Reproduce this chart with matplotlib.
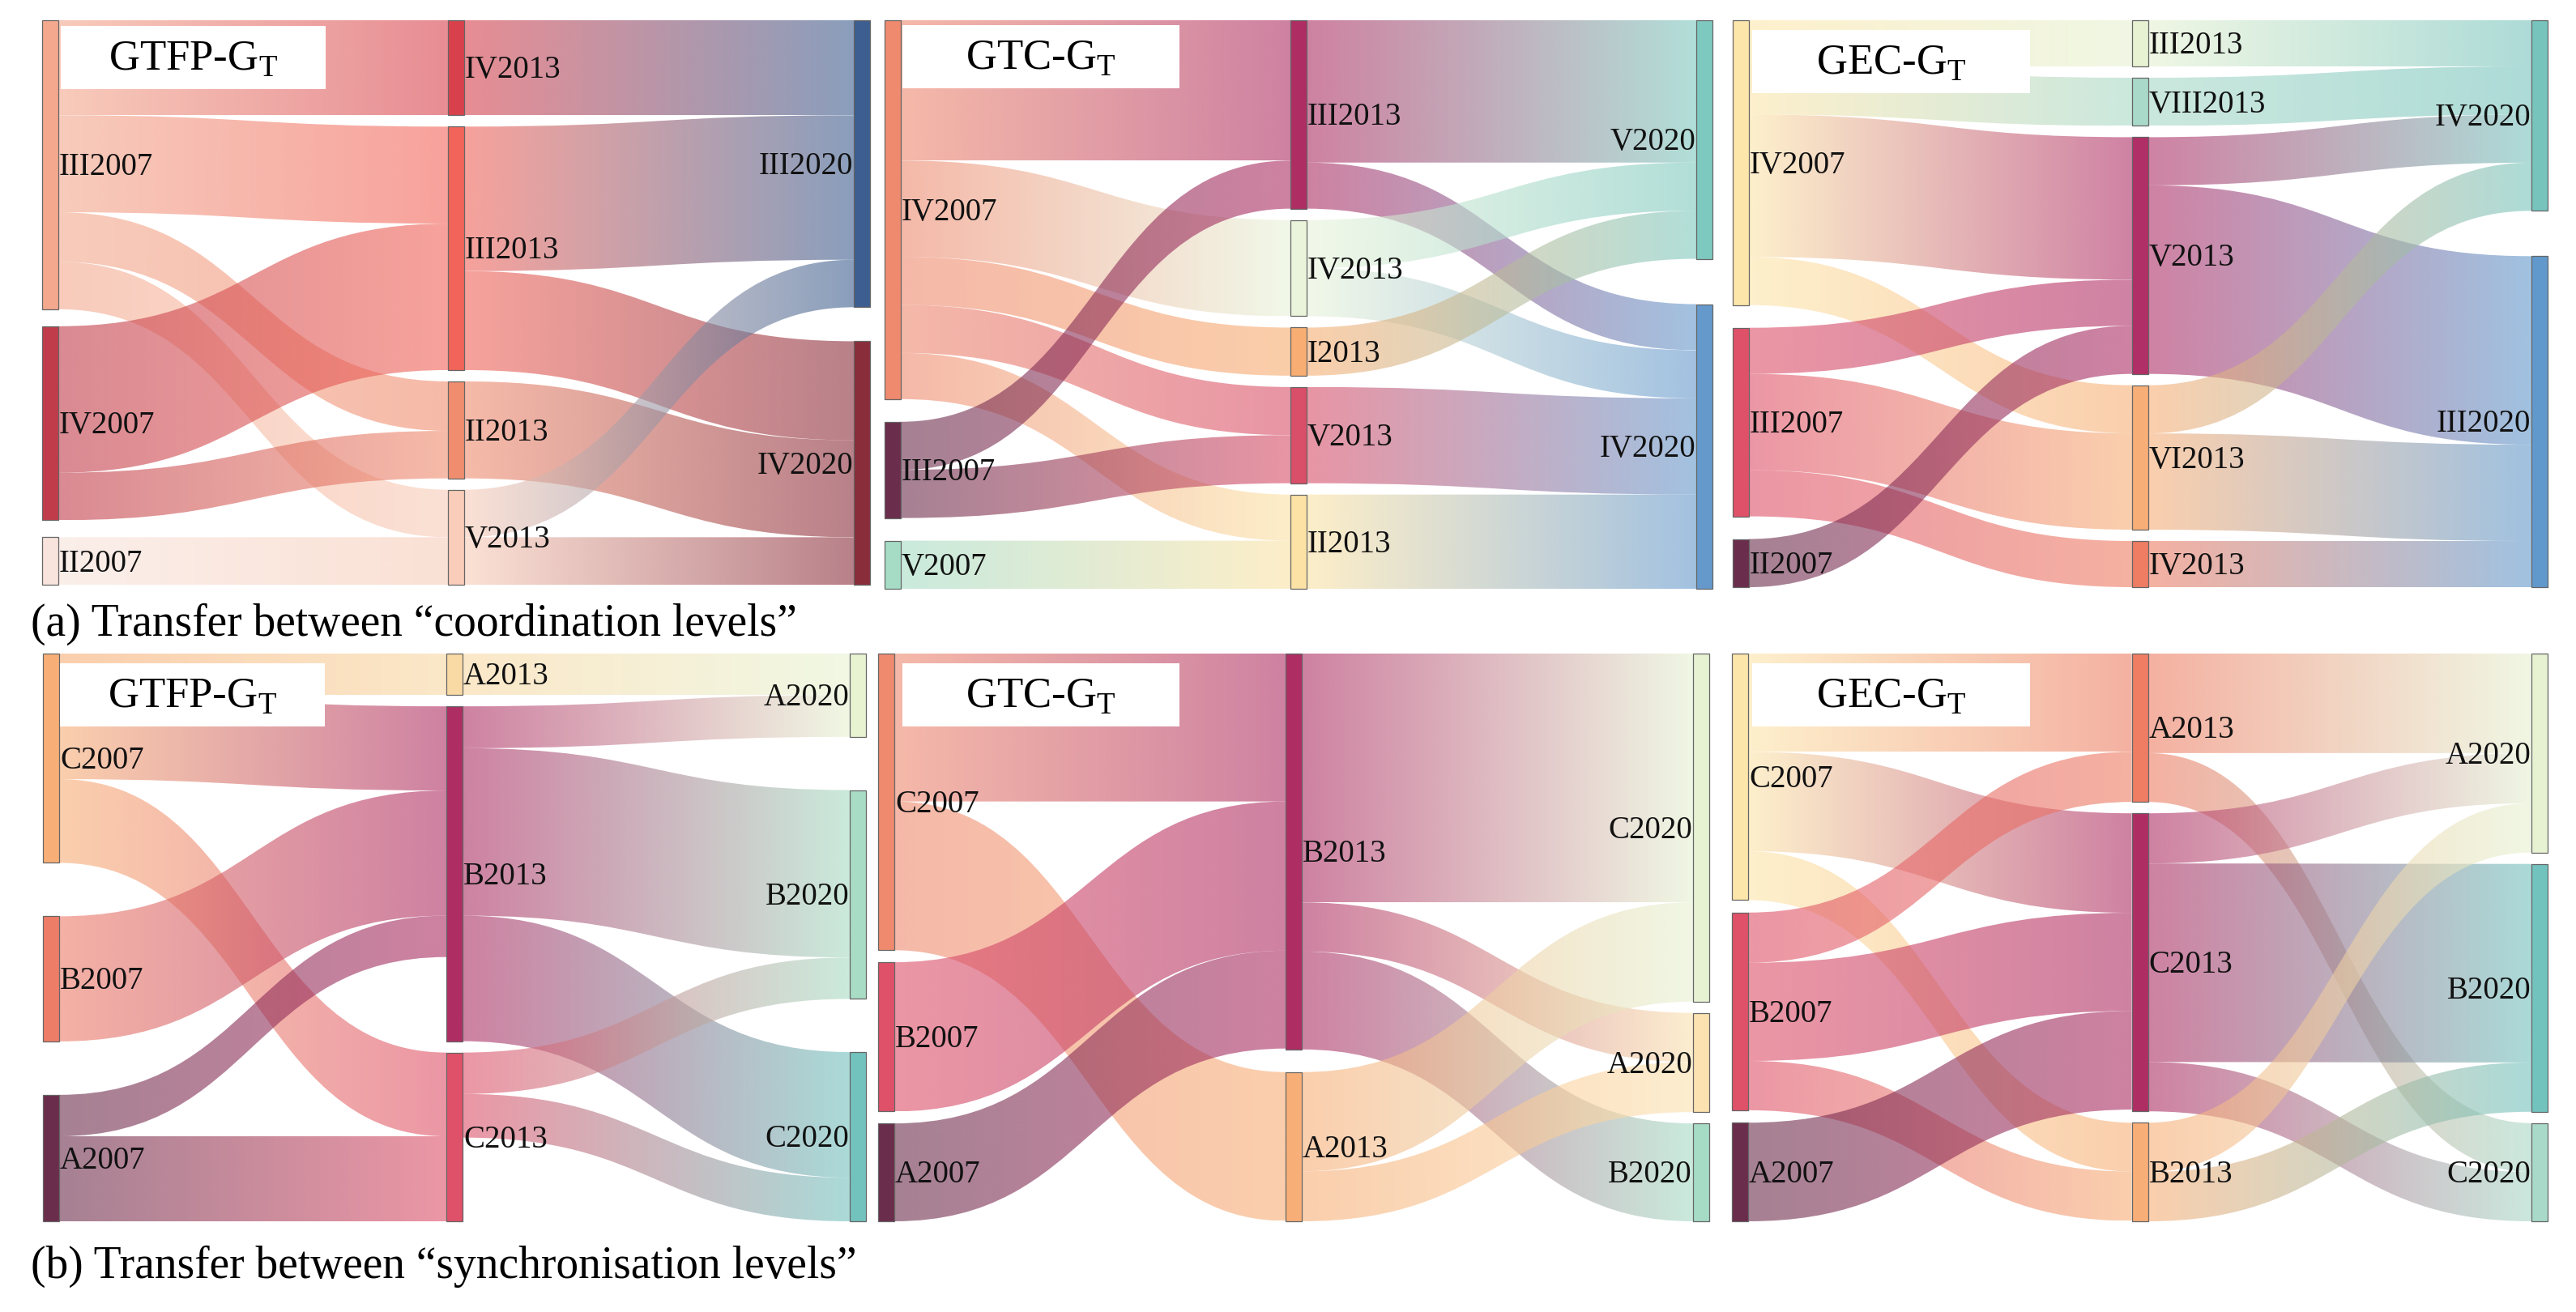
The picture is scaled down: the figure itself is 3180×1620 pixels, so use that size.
import numpy as np
import matplotlib
matplotlib.use("Agg")
import matplotlib.pyplot as plt
from matplotlib.path import Path
from matplotlib.patches import PathPatch, Rectangle
from matplotlib.colors import to_rgb

plt.rcParams["font.family"] = ["Liberation Serif", "DejaVu Serif"]
plt.rcParams["mathtext.fontset"] = "custom"
plt.rcParams["mathtext.rm"] = "Liberation Serif"

# ============================ DATA ============================
# ---- (a) coordination levels : GTFP-GT ----
a_gtfp_columns = [["III2007", "IV2007", "II2007"],
                  ["IV2013", "III2013", "II2013", "V2013"],
                  ["III2020", "IV2020"]]
a_gtfp_sources = ["III2007", "III2007", "III2007", "III2007", "IV2007", "IV2007", "II2007",
                  "IV2013", "III2013", "III2013", "II2013", "V2013", "V2013"]
a_gtfp_targets = ["IV2013", "III2013", "II2013", "V2013", "III2013", "II2013", "V2013",
                  "III2020", "III2020", "IV2020", "IV2020", "III2020", "IV2020"]
a_gtfp_values = [24, 24.5, 12.5, 12, 37, 12, 12,
                 24, 36.5, 25, 24.5, 12, 12]

# ---- (a) coordination levels : GTC-GT ----
a_gtc_columns = [["IV2007", "III2007", "V2007"],
                 ["III2013", "IV2013", "I2013", "V2013", "II2013"],
                 ["V2020", "IV2020"]]
a_gtc_sources = ["IV2007", "IV2007", "IV2007", "IV2007", "IV2007", "III2007", "III2007", "V2007",
                 "III2013", "III2013", "IV2013", "IV2013", "I2013", "V2013", "II2013"]
a_gtc_targets = ["III2013", "IV2013", "I2013", "V2013", "II2013", "III2013", "V2013", "II2013",
                 "V2020", "IV2020", "V2020", "IV2020", "V2020", "IV2020", "IV2020"]
a_gtc_values = [35, 24, 12, 12, 11.5, 12, 12, 12,
                35.5, 11.5, 12, 12, 12, 24, 23.5]

# ---- (a) coordination levels : GEC-GT ----
a_gec_columns = [["IV2007", "III2007", "II2007"],
                 ["III2013", "VIII2013", "V2013", "VI2013", "IV2013"],
                 ["IV2020", "III2020"]]
a_gec_sources = ["IV2007", "IV2007", "IV2007", "IV2007", "III2007", "III2007", "III2007", "II2007",
                 "III2013", "VIII2013", "V2013", "V2013", "VI2013", "VI2013", "IV2013"]
a_gec_targets = ["III2013", "VIII2013", "V2013", "VI2013", "V2013", "VI2013", "IV2013", "V2013",
                 "IV2020", "IV2020", "IV2020", "III2020", "IV2020", "III2020", "III2020"]
a_gec_values = [11.5, 12, 35.5, 12, 11.5, 24, 11.5, 12,
                11.5, 12, 12, 47, 12, 24, 11.5]

# ---- (b) synchronisation levels : GTFP-GT ----
b_gtfp_columns = [["C2007", "B2007", "A2007"],
                  ["A2013", "B2013", "C2013"],
                  ["A2020", "B2020", "C2020"]]
b_gtfp_sources = ["C2007", "C2007", "C2007", "B2007", "A2007", "A2007",
                  "A2013", "B2013", "B2013", "B2013", "C2013", "C2013"]
b_gtfp_targets = ["A2013", "B2013", "C2013", "B2013", "B2013", "C2013",
                  "A2020", "A2020", "B2020", "C2020", "B2020", "C2020"]
b_gtfp_values = [9.5, 19.3, 19.2, 28.7, 9.5, 19.5,
                 9.5, 9.6, 38.4, 28.8, 9.5, 10]

# ---- (b) synchronisation levels : GTC-GT ----
b_gtc_columns = [["C2007", "B2007", "A2007"],
                 ["B2013", "A2013"],
                 ["C2020", "A2020", "B2020"]]
b_gtc_sources = ["C2007", "C2007", "B2007", "A2007",
                 "B2013", "B2013", "B2013", "A2013", "A2013"]
b_gtc_targets = ["B2013", "A2013", "B2013", "B2013",
                 "C2020", "A2020", "B2020", "C2020", "A2020"]
b_gtc_values = [34, 34.2, 34.3, 22.5,
                57.2, 11.3, 22.5, 22.8, 11.5]

# ---- (b) synchronisation levels : GEC-GT ----
b_gec_columns = [["C2007", "B2007", "A2007"],
                 ["A2013", "C2013", "B2013"],
                 ["A2020", "B2020", "C2020"]]
b_gec_sources = ["C2007", "C2007", "C2007", "B2007", "B2007", "B2007", "A2007",
                 "A2013", "A2013", "C2013", "C2013", "C2013", "B2013", "B2013"]
b_gec_targets = ["A2013", "C2013", "B2013", "A2013", "C2013", "B2013", "C2013",
                 "A2020", "C2020", "A2020", "B2020", "C2020", "A2020", "B2020"]
b_gec_values = [22.5, 22.8, 11.2, 11.5, 22.5, 11.3, 22.6,
                22.8, 11.2, 11.5, 45.5, 11.3, 11.3, 11.3]

panel_titles = ["GTFP-G$_\\mathregular{T}$", "GTC-G$_\\mathregular{T}$", "GEC-G$_\\mathregular{T}$"]
captions = ["(a) Transfer between \u201ccoordination levels\u201d",
            "(b) Transfer between \u201csynchronisation levels\u201d"]

# ============================ STYLE ============================
a_gtfp_colors = {"III2007": "#F4A98E", "IV2007": "#C13C4A", "II2007": "#F8E4DC",
                 "IV2013": "#D8414C", "III2013": "#F26459", "II2013": "#F18D6F", "V2013": "#F9CDB9",
                 "III2020": "#3C5E90", "IV2020": "#8A2D3B"}
a_gtc_colors = {"IV2007": "#EF8A6F", "III2007": "#6A2D4B", "V2007": "#A6DCC6",
                "III2013": "#AE2E63", "IV2013": "#E9F4DA", "I2013": "#F8AE72", "V2013": "#D94E68",
                "II2013": "#FCE3A5", "V2020": "#7EC9BF", "IV2020": "#6599CC"}
a_gec_colors = {"IV2007": "#FDE6AA", "III2007": "#DF5169", "II2007": "#6A2D4B",
                "III2013": "#E6F2D2", "VIII2013": "#A9D9C8", "V2013": "#B02F66", "VI2013": "#F8AF77",
                "IV2013": "#EE7D63", "IV2020": "#77C4BD", "III2020": "#6199CC"}
b_gtfp_colors = {"C2007": "#F8AF77", "B2007": "#EE7D68", "A2007": "#6A2D4B",
                 "A2013": "#F9D9A4", "B2013": "#AE2E63", "C2013": "#DF5169",
                 "A2020": "#E8F3D2", "B2020": "#A8DCC4", "C2020": "#72C2BE"}
b_gtc_colors = {"C2007": "#EF8A6F", "B2007": "#DF5169", "A2007": "#6A2D4B",
                "B2013": "#AE2E63", "A2013": "#F8AF77",
                "C2020": "#E6F2D2", "A2020": "#FBE2B0", "B2020": "#A6DCC6"}
b_gec_colors = {"C2007": "#FDE6AA", "B2007": "#DF5169", "A2007": "#6A2D4B",
                "A2013": "#EE7D63", "C2013": "#AE2E63", "B2013": "#F8AF77",
                "A2020": "#E6F2D2", "B2020": "#72C2BE", "C2020": "#A9D9C8"}

# panel frames in figure pixels (left, top, right, bottom)
frames = [(52, 25, 1074, 722), (1092, 25, 2114, 727), (2139, 25, 3145, 725),
          (53, 807, 1069, 1508), (1084, 807, 2110, 1508), (2138, 807, 3145, 1508)]
title_boxes = [(75, 32, 402, 110), (1114, 31, 1456, 109), (2163, 37, 2506, 115),
               (74, 819, 401, 897), (1114, 819, 1456, 897), (2163, 819, 2506, 897)]
caption_pos = [(38, 785), (38, 1578)]

NODE_W = 20
NODE_GAP = 14
LINK_ALPHA = 0.6
LABEL_PT = 28
TITLE_PT = 38
CAPTION_PT = 40
DPI = 100


def layout(columns, sources, targets, values, H, gap):
    names = [n for col in columns for n in col]
    inflow = {n: 0.0 for n in names}
    outflow = {n: 0.0 for n in names}
    for s, t, v in zip(sources, targets, values):
        outflow[s] += v
        inflow[t] += v
    size = {n: max(inflow[n], outflow[n]) for n in names}
    k = min((H - (len(col) - 1) * gap) / sum(size[n] for n in col) for col in columns)
    ypos = {}
    for col in columns:
        total = k * sum(size[n] for n in col)
        g = (H - total) / (len(col) - 1) if len(col) > 1 else 0
        y = 0.0
        for n in col:
            ypos[n] = (y, y + k * size[n])
            y += k * size[n] + g
    return k, ypos


def draw_panel(ax, frame, columns, sources, targets, values, colors):
    x0, y0, x1, y1 = frame
    W, H = x1 - x0, y1 - y0
    k, ypos = layout(columns, sources, targets, values, H, NODE_GAP)
    ncol = len(columns)
    colx = {}
    for c, col in enumerate(columns):
        for n in col:
            colx[n] = x0 + c * (W - NODE_W) / (ncol - 1)
    # link offsets
    idx = range(len(values))
    s_off, t_off = {}, {}
    for n in ypos:
        outs = sorted([i for i in idx if sources[i] == n], key=lambda i: ypos[targets[i]][0])
        yy = ypos[n][0]
        for i in outs:
            s_off[i] = (yy, yy + k * values[i])
            yy += k * values[i]
        ins = sorted([i for i in idx if targets[i] == n], key=lambda i: ypos[sources[i]][0])
        yy = ypos[n][0]
        for i in ins:
            t_off[i] = (yy, yy + k * values[i])
            yy += k * values[i]
    tt = np.linspace(0, 1, 256)[None, :, None]
    for i in idx:
        s, t = sources[i], targets[i]
        xs = colx[s] + NODE_W
        xt = colx[t]
        xm = (xs + xt) / 2
        sa, sb = s_off[i][0] + y0, s_off[i][1] + y0
        ta, tb = t_off[i][0] + y0, t_off[i][1] + y0
        verts = [(xs, sa), (xm, sa), (xm, ta), (xt, ta),
                 (xt, tb), (xm, tb), (xm, sb), (xs, sb), (xs, sa)]
        codes = [Path.MOVETO, Path.CURVE4, Path.CURVE4, Path.CURVE4,
                 Path.LINETO, Path.CURVE4, Path.CURVE4, Path.CURVE4, Path.CLOSEPOLY]
        patch = PathPatch(Path(verts, codes), facecolor="none", edgecolor="none",
                          transform=ax.transData)
        c0 = np.array(to_rgb(colors[s]))
        c1 = np.array(to_rgb(colors[t]))
        rgb = c0 * (1 - tt) + c1 * tt
        img = np.concatenate([rgb, np.full((1, 256, 1), LINK_ALPHA)], axis=2)
        ymin, ymax = min(sa, ta), max(sb, tb)
        im = ax.imshow(img, extent=(xs, xt, ymax, ymin), aspect="auto",
                       interpolation="bilinear", zorder=1)
        im.set_clip_path(patch)
    # nodes + labels
    lab_px = LABEL_PT * DPI / 72.0
    for c, col in enumerate(columns):
        for n in col:
            ya, yb = ypos[n][0] + y0, ypos[n][1] + y0
            ax.add_patch(Rectangle((colx[n], ya), NODE_W, yb - ya, facecolor=colors[n],
                                   edgecolor="#666666", lw=0.9, zorder=3))
            yc = (ya + yb) / 2 + 0.33 * lab_px
            if c < ncol - 1:
                ax.text(colx[n] + NODE_W + 1, yc, n, ha="left", va="baseline",
                        fontsize=LABEL_PT, color="#111111", zorder=5)
            else:
                ax.text(colx[n] - 1, yc, n, ha="right", va="baseline",
                        fontsize=LABEL_PT, color="#111111", zorder=5)


fig = plt.figure(figsize=(31.8, 16.2), dpi=DPI)
ax = fig.add_axes([0, 0, 1, 1])

panels = [
    (a_gtfp_columns, a_gtfp_sources, a_gtfp_targets, a_gtfp_values, a_gtfp_colors),
    (a_gtc_columns, a_gtc_sources, a_gtc_targets, a_gtc_values, a_gtc_colors),
    (a_gec_columns, a_gec_sources, a_gec_targets, a_gec_values, a_gec_colors),
    (b_gtfp_columns, b_gtfp_sources, b_gtfp_targets, b_gtfp_values, b_gtfp_colors),
    (b_gtc_columns, b_gtc_sources, b_gtc_targets, b_gtc_values, b_gtc_colors),
    (b_gec_columns, b_gec_sources, b_gec_targets, b_gec_values, b_gec_colors),
]
for p, (cols, srcs, tgts, vals, cmap) in enumerate(panels):
    draw_panel(ax, frames[p], cols, srcs, tgts, vals, cmap)
    bx0, by0, bx1, by1 = title_boxes[p]
    ax.add_patch(Rectangle((bx0, by0), bx1 - bx0, by1 - by0, facecolor="white",
                           edgecolor="none", zorder=6))
    ax.text((bx0 + bx1) / 2, by0 + 0.70 * (by1 - by0), panel_titles[p % 3],
            ha="center", va="baseline", fontsize=TITLE_PT, color="black", zorder=7)

for cap, (cx, cy) in zip(captions, caption_pos):
    ax.text(cx, cy, cap, ha="left", va="baseline", fontsize=CAPTION_PT, color="black")

ax.set_xlim(0, 3180)
ax.set_ylim(1620, 0)
ax.axis("off")
fig.savefig("out.png", dpi=DPI, facecolor="white")
